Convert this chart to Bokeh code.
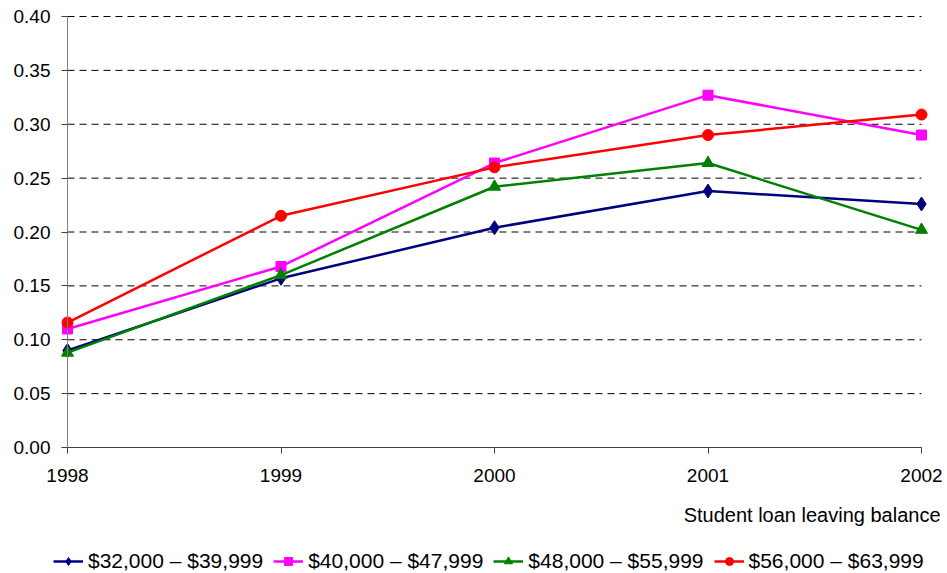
from bokeh.plotting import figure
from bokeh.models import (FixedTicker, NumeralTickFormatter, Legend, LegendItem,
                          Range1d, ColumnDataSource, Label)
from bokeh.embed import file_html
from bokeh.resources import INLINE

years = [1998, 1999, 2000, 2001, 2002]
s32 = [0.090, 0.157, 0.204, 0.238, 0.226]
s40 = [0.110, 0.168, 0.264, 0.327, 0.290]
s48 = [0.088, 0.160, 0.242, 0.264, 0.202]
s56 = [0.116, 0.215, 0.260, 0.290, 0.309]
labels = ["$32,000 \u2013 $39,999", "$40,000 \u2013 $47,999",
          "$48,000 \u2013 $55,999", "$56,000 \u2013 $63,999"]
y_ticks = [0.0, 0.05, 0.10, 0.15, 0.20, 0.25, 0.30, 0.35, 0.40]
x_title = "Student loan leaving balance"

FONT = "Liberation Sans"

# layout (pixels): the frame covers the whole canvas, axes are fixed inside it
W, H = 947, 573
AX_LEFT, AX_RIGHT = 67, 921     # pixel x of first / last year
AX_TOP, AX_BOTTOM = 16, 447     # pixel y of 0.40 / 0.00
px_year = (AX_RIGHT - AX_LEFT) / (years[-1] - years[0])
px_unit = (AX_BOTTOM - AX_TOP) / (y_ticks[-1] - y_ticks[0])
x_start = years[0] - AX_LEFT / px_year
x_end = years[-1] + (W - AX_RIGHT) / px_year
y_end = y_ticks[-1] + AX_TOP / px_unit
y_start = y_ticks[0] - (H - AX_BOTTOM) / px_unit

p = figure(output_backend="svg", toolbar_location=None,
           frame_width=W, frame_height=H,
           x_range=Range1d(x_start, x_end), y_range=Range1d(y_start, y_end),
           min_border_left=0, min_border_right=0, min_border_top=0,
           min_border_bottom=0)
p.outline_line_color = None
p.background_fill_color = "white"
p.border_fill_color = "white"
p.xgrid.grid_line_color = None
p.ygrid.grid_line_color = None

# dashed horizontal grid lines, spanning the years only
n = len(y_ticks) - 1
p.segment(x0=[years[0]] * n, x1=[years[-1]] * n, y0=y_ticks[1:], y1=y_ticks[1:],
          line_color="black", line_width=1, line_dash="7 5")

for ax in (p.xaxis[0], p.yaxis[0]):
    ax.major_label_text_font = FONT
    ax.major_label_text_font_size = "19px"
    ax.major_label_text_color = "black"
    ax.minor_tick_line_color = None
    ax.axis_line_width = 1
    ax.major_tick_line_width = 1
    ax.major_tick_in = 0
    ax.major_tick_out = 6

ya = p.yaxis[0]
ya.ticker = FixedTicker(ticks=y_ticks)
ya.formatter = NumeralTickFormatter(format="0.00")
ya.fixed_location = years[0]
ya.bounds = (y_ticks[0], y_ticks[-1])
ya.axis_line_color = "#808080"
ya.major_tick_line_color = "#404040"
ya.major_label_standoff = 11

xa = p.xaxis[0]
xa.ticker = FixedTicker(ticks=years)
xa.fixed_location = y_ticks[0]
xa.bounds = (years[0], years[-1])
xa.axis_line_color = "#404040"
xa.major_tick_line_color = "#404040"
xa.major_label_standoff = 15

series = [
    (s32, "#000080", "diamond", 14),
    (s40, "#FF00FF", "square", 10),
    (s48, "#008000", "triangle", 12),
    (s56, "#FF0000", "circle", 11),
]
items = []
for (vals, col, mk, sz), lab in zip(series, labels):
    src = ColumnDataSource(dict(x=years, y=vals))
    r1 = p.line("x", "y", source=src, line_color=col, line_width=2.5)
    r2 = p.scatter("x", "y", source=src, marker=mk, size=sz,
                   fill_color=col, line_color=col)
    items.append(LegendItem(label=lab, renderers=[r1, r2]))

p.add_layout(Label(x=years[-1], y=y_ticks[0], x_offset=19, y_offset=-67,
                   text=x_title, text_align="right", text_baseline="middle",
                   text_font=FONT, text_font_size="20px", text_color="black"))

legend = Legend(items=items, orientation="horizontal", location=(53, 0),
                label_text_font=FONT, label_text_font_size="21px",
                label_text_color="black", border_line_color=None,
                background_fill_alpha=0, glyph_width=30, glyph_height=20,
                label_standoff=5, spacing=10, padding=0, margin=0)
p.add_layout(legend, "center")

open("out.html", "w").write(file_html(p, INLINE))
